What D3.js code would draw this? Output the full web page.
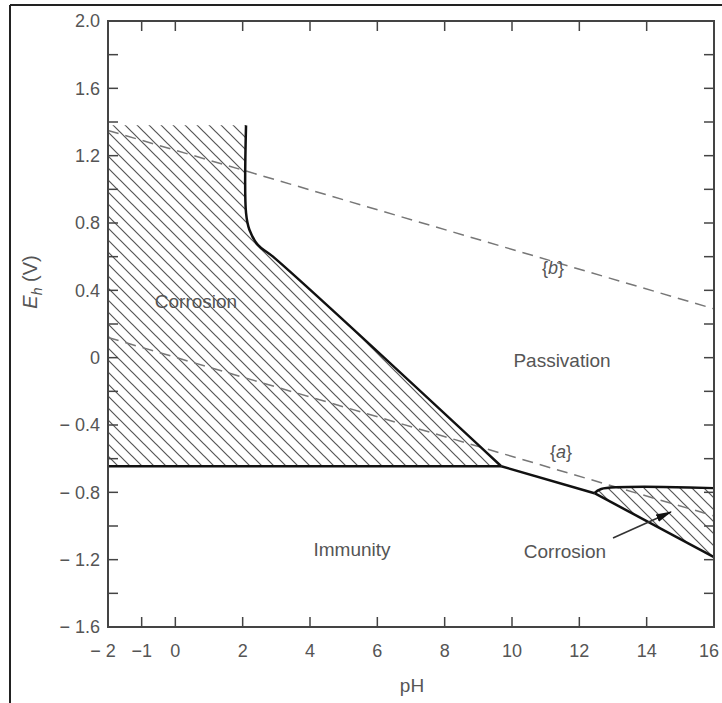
<!DOCTYPE html>
<html>
<head>
<meta charset="utf-8">
<script src="https://cdn.jsdelivr.net/npm/d3@7"></script>
<style>
  html, body { margin: 0; padding: 0; background: #fff; }
  svg { display: block; }
  text { font-family: "Liberation Sans", Arial, Helvetica, sans-serif; fill: #555; }
</style>
</head>
<body>
<svg id="chart" width="722" height="703"></svg>
<script>
// axis ticks
const xTicks = [-2, -1, 0, 2, 4, 6, 8, 10, 12, 14, 16];
const xTickLabels = ['\u2212 2', '\u22121', '0', '2', '4', '6', '8', '10', '12', '14', '16'];
const yTicks = [-1.6, -1.4, -1.2, -1.0, -0.8, -0.6, -0.4, -0.2, 0, 0.2, 0.4, 0.6, 0.8, 1.0, 1.2, 1.4, 1.6, 1.8, 2.0];
const yLabelTicks = [-1.6, -1.2, -0.8, -0.4, 0, 0.4, 0.8, 1.2, 1.6, 2.0];
const yTickLabels = ['\u2212 1.6', '\u2212 1.2', '\u2212 0.8', '\u2212 0.4', '0', '0.4', '0.8', '1.2', '1.6', '2.0'];

// boundaries (pH, Eh)
const corrosionTop = 1.38;
const corrosionBottom = -0.645;
const corrosionLeftEdge = [[2.1, 1.38], [2.1, 0.86], [2.2, 0.76], [2.45, 0.67], [2.9, 0.6], [9.68, -0.645]];
const immunityPassivation = [[9.68, -0.645], [12.45, -0.805]];
const corrosionRightTop = [[12.45, -0.805], [12.65, -0.78], [16, -0.775]];
const corrosionRightBottom = [[12.45, -0.805], [16, -1.185]];
const waterA = [[-2, 0.12], [16, -0.94]];
const waterB = [[-2, 1.35], [16, 0.29]];

const svg = d3.select('#chart');
const x = d3.scaleLinear().domain([-2, 16]).range([108, 714]);
const y = d3.scaleLinear().domain([-1.6, 2.0]).range([627, 21]);

// outer frame (scan edges)
svg.append('line').attr('x1', 10).attr('y1', 5).attr('x2', 722).attr('y2', 5)
  .attr('stroke', '#222').attr('stroke-width', 2);
svg.append('line').attr('x1', 10).attr('y1', 5).attr('x2', 10).attr('y2', 703)
  .attr('stroke', '#222').attr('stroke-width', 2);

// hatch pattern
const defs = svg.append('defs');
defs.append('pattern')
  .attr('id', 'hatch')
  .attr('patternUnits', 'userSpaceOnUse')
  .attr('width', 12).attr('height', 12)
  .append('path')
  .attr('d', 'M0,0 L12,12 M-2,10 L2,14 M10,-2 L14,2')
  .attr('stroke', '#555').attr('stroke-width', 1.2);

const line = d3.line().x(d => x(d[0])).y(d => y(d[1]));
const curvy = d3.line().x(d => x(d[0])).y(d => y(d[1])).curve(d3.curveCatmullRom.alpha(0.5));

// left corrosion region: curved edge, then straight back along bottom and left
const leftPath = curvy(corrosionLeftEdge)
  + 'L' + x(-2) + ',' + y(corrosionBottom)
  + 'L' + x(-2) + ',' + y(corrosionTop) + 'Z';
svg.append('path').attr('d', leftPath)
  .attr('fill', 'url(#hatch)').attr('stroke', 'none');

// right corrosion region
const rightPath = curvy(corrosionRightTop)
  + 'L' + x(corrosionRightBottom[1][0]) + ',' + y(corrosionRightBottom[1][1]) + 'Z';
svg.append('path').attr('d', rightPath)
  .attr('fill', 'url(#hatch)').attr('stroke', 'none');

// water lines
[waterA, waterB].forEach(w => {
  svg.append('path').attr('d', line(w))
    .attr('fill', 'none').attr('stroke', '#777').attr('stroke-width', 1.5)
    .attr('stroke-dasharray', '11,7');
});

// boundary lines
const bStyle = p => p.attr('fill', 'none').attr('stroke', '#111').attr('stroke-width', 2.5)
  .attr('stroke-linejoin', 'round');
svg.append('path').attr('d', curvy(corrosionLeftEdge)).call(bStyle);
svg.append('path').attr('d', line([[-2, corrosionBottom], [9.68, corrosionBottom]])).call(bStyle);
svg.append('path').attr('d', line(immunityPassivation)).call(bStyle);
svg.append('path').attr('d', curvy(corrosionRightTop)).call(bStyle);
svg.append('path').attr('d', line(corrosionRightBottom)).call(bStyle);

// plot frame
svg.append('rect')
  .attr('x', x(-2)).attr('y', y(2.0))
  .attr('width', x(16) - x(-2)).attr('height', y(-1.6) - y(2.0))
  .attr('fill', 'none').attr('stroke', '#444').attr('stroke-width', 2);

// inward ticks
const tickLen = 10;
const tickStyle = s => s.attr('stroke', '#444').attr('stroke-width', 1.5);
xTicks.slice(1, -1).forEach(t => {
  svg.append('line').attr('x1', x(t)).attr('x2', x(t))
    .attr('y1', y(-1.6)).attr('y2', y(-1.6) - tickLen).call(tickStyle);
  svg.append('line').attr('x1', x(t)).attr('x2', x(t))
    .attr('y1', y(2.0)).attr('y2', y(2.0) + tickLen).call(tickStyle);
});
yTicks.slice(1, -1).forEach(t => {
  svg.append('line').attr('x1', x(-2)).attr('x2', x(-2) + tickLen)
    .attr('y1', y(t)).attr('y2', y(t)).call(tickStyle);
  svg.append('line').attr('x1', x(16)).attr('x2', x(16) - tickLen)
    .attr('y1', y(t)).attr('y2', y(t)).call(tickStyle);
});

// tick labels
xTicks.forEach((t, i) => {
  const last = i === xTicks.length - 1;
  svg.append('text')
    .attr('x', last ? 719 : x(t) - (i === 0 ? 5 : 0))
    .attr('y', y(-1.6) + 30)
    .attr('text-anchor', last ? 'end' : 'middle').style('font-size', '18px')
    .text(xTickLabels[i]);
});
yLabelTicks.forEach((t, i) => {
  svg.append('text').attr('x', x(-2) - 8).attr('y', y(t)).attr('dy', '0.35em')
    .attr('text-anchor', 'end').style('font-size', '18px')
    .text(yTickLabels[i]);
});

// axis titles
svg.append('text').attr('x', 412).attr('y', 692).attr('text-anchor', 'middle')
  .style('font-size', '19px').text('pH');
const yt = svg.append('text').attr('transform', 'translate(37,282) rotate(-90)')
  .attr('text-anchor', 'middle').style('font-size', '20px');
yt.append('tspan').style('font-style', 'italic').text('E');
yt.append('tspan').style('font-style', 'italic').style('font-size', '14px').attr('dy', 5).text('h');
yt.append('tspan').attr('dy', -5).text(' (V)');

// region labels
const label = (px, py, txt) => svg.append('text').attr('x', px).attr('y', py)
  .attr('text-anchor', 'middle').attr('dy', '0.35em').style('font-size', '19px').text(txt);
label(196, 301, 'Corrosion');
label(562, 360, 'Passivation');
label(352, 549, 'Immunity');
label(565, 551, 'Corrosion');

const brace = (px, py, letter) => {
  const t = svg.append('text').attr('x', px).attr('y', py).attr('dy', '0.35em')
    .attr('text-anchor', 'middle').style('font-size', '18px');
  t.append('tspan').text('{');
  t.append('tspan').style('font-style', 'italic').text(letter);
  t.append('tspan').text('}');
};
brace(553, 268, 'b');
brace(561, 452, 'a');

// arrow
defs.append('marker').attr('id', 'arrow')
  .attr('viewBox', '0 0 16 10').attr('refX', 15).attr('refY', 5)
  .attr('markerWidth', 16).attr('markerHeight', 10).attr('orient', 'auto')
  .attr('markerUnits', 'userSpaceOnUse')
  .append('path').attr('d', 'M0,1 L16,5 L0,9 Z').attr('fill', '#111');
svg.append('line').attr('x1', 613).attr('y1', 538).attr('x2', 671).attr('y2', 512)
  .attr('stroke', '#333').attr('stroke-width', 1.6).attr('marker-end', 'url(#arrow)');
</script>
</body>
</html>
